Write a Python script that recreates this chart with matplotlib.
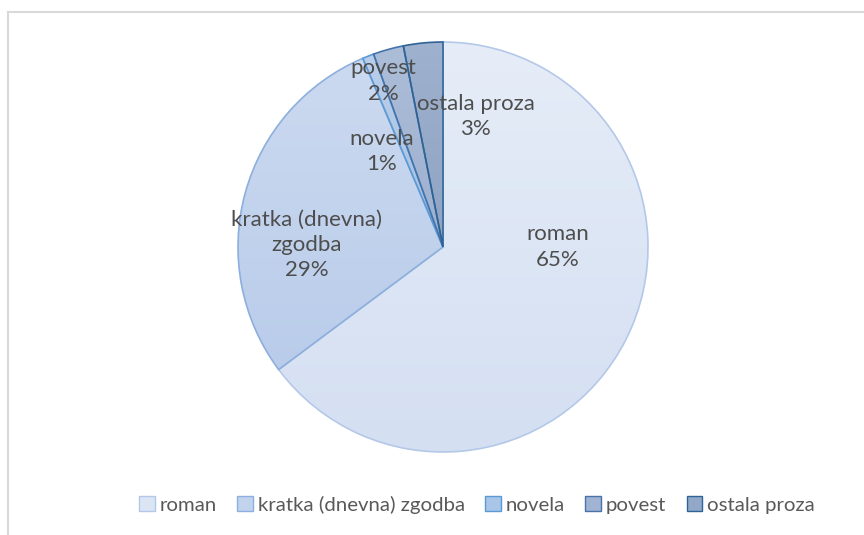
import matplotlib
matplotlib.use('Agg')
import matplotlib.pyplot as plt
import numpy as np
from matplotlib.lines import Line2D
from matplotlib.patches import Patch
from matplotlib.colors import LinearSegmentedColormap

# podatki (delezi v %)
kategorije = ['roman', 'kratka (dnevna) zgodba', 'novela', 'povest', 'ostala proza']
nalepke = ['roman', 'kratka (dnevna)\nzgodba', 'novela', 'povest', 'ostala proza']
delezi = [64.8, 28.8, 0.9, 2.4, 3.1]

# barve: zgoraj, spodaj, rob
barve_zg = ['#E6EDF8', '#CCDAF0', '#B9CEEA', '#ACBDD8', '#9EB1CE']
barve_sp = ['#D4DFF2', '#B9CCEA', '#A6C0E4', '#9DB0CE', '#8FA4C3']
robovi = ['#B4C8E8', '#8DAFDD', '#5B9BD5', '#4674AA', '#2F6396']
legenda_barve = ['#DCE5F4', '#C2D3EE', '#A9C5E8', '#A0B3D3', '#92A8C8']

# polozaji nalepk (v enotah polmera)
nal_poz = [(0.56, 0.0), (-0.665, 0.01), (-0.30, 0.465), (-0.29, 0.81), (0.16, 0.635)]

W, H = 864, 535
fig = plt.figure(figsize=(W / 100, H / 100), dpi=100)

cx, cy, r = 443, 535 - 247, 205
ax = fig.add_axes([(cx - r) / W, (cy - r) / H, 2 * r / W, 2 * r / H])

wedges, _ = ax.pie(delezi, startangle=90, counterclock=False, radius=1,
                   colors=barve_sp, wedgeprops=dict(linewidth=1.2))
ax.set_aspect('equal')
ax.axis('off')

# gradient za vsak izsek
grad = np.linspace(0, 1, 256).reshape(-1, 1)
for i, w in enumerate(wedges):
    w.set_edgecolor(robovi[i])
    ext = w.get_path().get_extents(w.get_patch_transform())
    cmap = LinearSegmentedColormap.from_list('g%d' % i, [barve_zg[i], barve_sp[i]])
    im = ax.imshow(grad, cmap=cmap, aspect='auto',
                   extent=[ext.x0, ext.x1, ext.y0, ext.y1], origin='upper', zorder=1)
    im.set_clip_path(w)
    w.set_facecolor('none')
    w.set_zorder(2)

ax.set_xlim(-1.0, 1.0)
ax.set_ylim(-1.0, 1.0)

for i, (x, y) in enumerate(nal_poz):
    ax.text(x, y, '%s\n%d%%' % (nalepke[i], round(delezi[i])), ha='center', va='center',
            fontsize=16, color='#4D4D4D', family='Lato', linespacing=1.32, zorder=5)

# legenda
rocaji = [Patch(facecolor=legenda_barve[i], edgecolor=robovi[i], linewidth=1.0)
          for i in range(len(kategorije))]
fig.legend(rocaji, kategorije, loc='center', bbox_to_anchor=(477 / W, 1 - 505 / H),
           ncol=5, frameon=False, handlelength=0.75, handleheight=0.75, handletextpad=0.25,
           columnspacing=1.0, prop=dict(family='Lato', size=14.7), labelcolor='#595959')

# okvir grafikona
fig.add_artist(Line2D([8 / W, 1.0], [1 - 12 / H, 1 - 12 / H], color='#D9D9D9', lw=1.5))
fig.add_artist(Line2D([8 / W, 8 / W], [0.0, 1 - 12 / H], color='#D9D9D9', lw=1.5))

fig.savefig('out.png', dpi=100)
